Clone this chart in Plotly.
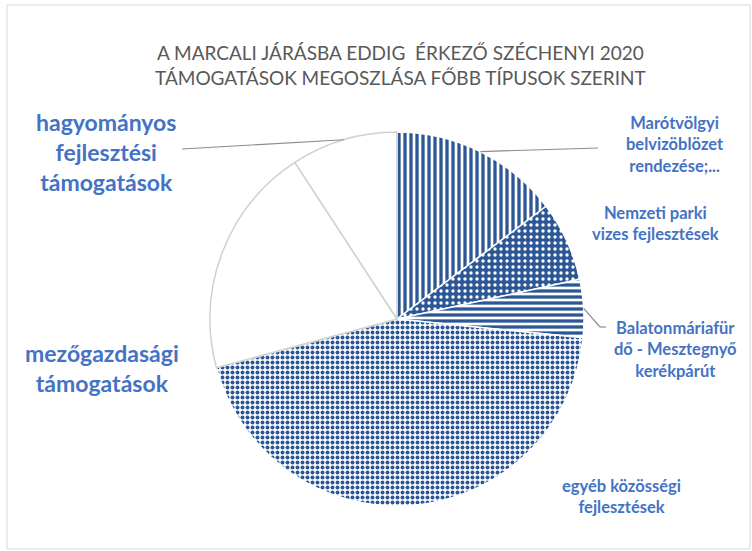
import math
import plotly.graph_objects as go

W, H = 752, 551

labels = [
    "Marótvölgyi belvízöblözet rendezése;...",
    "Nemzeti parki vizes fejlesztések",
    "Balatonmáriafürdő - Mesztegnyő kerékpárút",
    "egyéb közösségi fejlesztések",
    "mezőgazdasági támogatások",
    "hagyományos fejlesztési támogatások",
]
values = [14.7, 6.9, 5.0, 44.2, 20.0, 9.2]

label_texts = [
    "Marótvölgyi<br>belvizöblözet<br>rendezése;...",
    "Nemzeti parki<br>vizes fejlesztések",
    "Balatonmáriafür<br>dő - Mesztegnyő<br>kerékpárút",
    "egyéb közösségi<br>fejlesztések",
    "mezőgazdasági<br>támogatások",
    "hagyományos<br>fejlesztési<br>támogatások",
]
title_text = "A MARCALI JÁRÁSBA EDDIG  ÉRKEZŐ SZÉCHENYI 2020<br>TÁMOGATÁSOK MEGOSZLÁSA FŐBB TÍPUSOK SZERINT"

DARK = "#2b5797"
LABEL = "#4472c4"

# pie geometry (pixels)
cx, cy, r = 397, 319, 187

def px(x):
    return x / W

def py(y):
    return 1 - y / H

fig = go.Figure()
fig.add_trace(go.Pie(
    labels=labels,
    values=values,
    sort=False,
    direction="clockwise",
    rotation=0,
    textinfo="none",
    hoverinfo="label+percent",
    showlegend=False,
    domain=dict(x=[px(cx - r), px(cx + r)], y=[py(cy + r), py(cy - r)]),
    marker=dict(
        colors=["white", DARK, "white", "white", "white", "white"],
        line=dict(color=["white", "white", "white", "white", "#d0d0d0", "#d0d0d0"], width=1.5),
        pattern=dict(
            shape=["|", ".", "-", ".", "", ""],
            fgcolor=[DARK, "white", DARK, DARK, "white", "white"],
            bgcolor=["white", DARK, "white", "white", "white", "white"],
            size=[6, 6, 6, 5, 8, 8],
            solidity=[0.55, 0.25, 0.55, 0.5, 0.1, 0.1],
            fillmode="replace",
        ),
    ),
))

# mid angles of slices (from data)
total = sum(values)
mids = []
acc = 0
for v in values:
    mids.append((acc + v / 2) / total * 2 * math.pi)
    acc += v

def edge(i, rr=r):
    a = mids[i]
    return cx + rr * math.sin(a), cy - rr * math.cos(a)

shapes = []
# outer frame
shapes.append(dict(type="rect", xref="paper", yref="paper", x0=px(7), x1=px(750), y0=py(549), y1=py(5),
                   line=dict(color="#d9d9d9", width=1)))

def line(p0, p1):
    shapes.append(dict(type="line", xref="paper", yref="paper",
                       x0=px(p0[0]), y0=py(p0[1]), x1=px(p1[0]), y1=py(p1[1]),
                       line=dict(color="#8c8c8c", width=1.2)))

line(edge(0), (598, 148))
line(edge(5), (182, 149))
e2 = edge(2)
line(e2, (600, 327))
line((600, 327), (606, 327))

annotations = []
annotations.append(dict(text=title_text, x=px(400), y=py(65), xref="paper", yref="paper",
                        showarrow=False, font=dict(family="Lato", size=19, color="#595959"),
                        xanchor="center", yanchor="middle"))

small = dict(family="Lato", size=16.5, color=LABEL, weight="bold")
big = dict(family="Lato", size=23, color=LABEL, weight="bold")
# (center x, center y of text block, font)
label_pos = [
    (675, 144, small),
    (655, 223, small),
    (675, 349, small),
    (621, 496, small),
    (102, 368, big),
    (106, 152, big),
]
for t, (x, y, f) in zip(label_texts, label_pos):
    annotations.append(dict(text=t, x=px(x), y=py(y), xref="paper", yref="paper", showarrow=False,
                            font=f, xanchor="center", yanchor="middle", align="center"))

fig.update_layout(
    width=W, height=H,
    margin=dict(l=0, r=0, t=0, b=0),
    paper_bgcolor="white", plot_bgcolor="white",
    shapes=shapes, annotations=annotations,
)
fig.write_html("out.html", config={"displayModeBar": False},
               post_script="document.body.style.margin='0px';document.body.style.overflow='hidden';")
